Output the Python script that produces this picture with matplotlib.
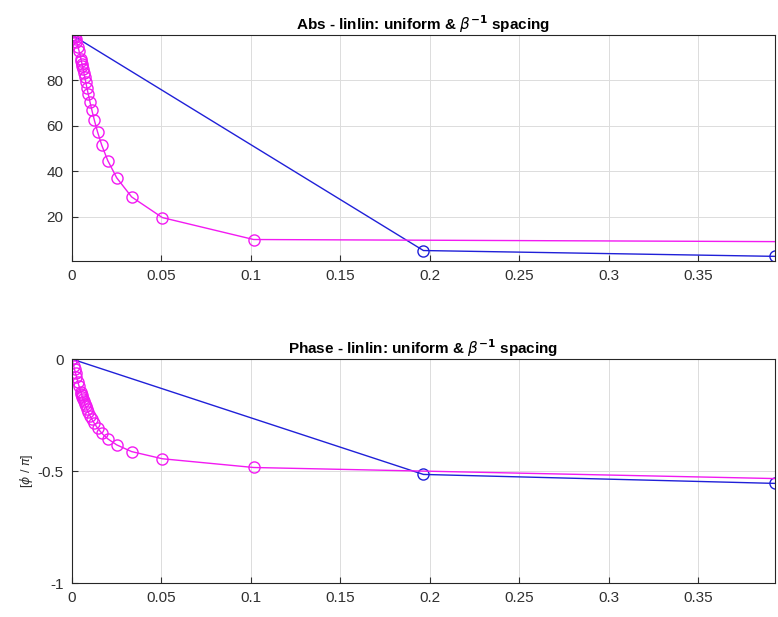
import numpy as np
import matplotlib
matplotlib.use('Agg')
import matplotlib.pyplot as plt

plt.rcParams['font.family'] = ['Liberation Sans', 'DejaVu Sans']

# uniform spacing (blue)
x_uni = [0.0, 0.19635, 0.39270]
abs_uni = [100.0, 5.1, 2.54]
phase_uni = [0.0, -0.515, -0.555]

# beta^-1 spacing (magenta), last point lies outside the view
x_beta = [0.0, 0.001, 0.00143, 0.002, 0.0025, 0.00333, 0.004, 0.005, 0.00526,
          0.00556, 0.00588, 0.00625, 0.00667, 0.00714, 0.00769, 0.00833,
          0.00909, 0.01, 0.01111, 0.0125, 0.01429, 0.01667, 0.02, 0.025,
          0.03333, 0.0505, 0.1015, 3.1416]
abs_beta = [100.0, 99.5, 99.0, 98.1, 97.0, 94.9, 92.8, 89.4, 88.5,
            87.4, 86.2, 84.8, 83.2, 81.4, 79.3, 76.8,
            74.0, 70.7, 66.9, 62.5, 57.3, 51.4, 44.7, 37.1,
            28.7, 19.6, 9.95, 0.32]
phase_beta = [0.0, -0.032, -0.045, -0.063, -0.078, -0.103, -0.122, -0.148, -0.155,
              -0.162, -0.170, -0.179, -0.188, -0.199, -0.210, -0.222,
              -0.236, -0.252, -0.269, -0.287, -0.308, -0.331, -0.356, -0.383,
              -0.413, -0.445, -0.484, -1.0]

xticks = [0, 0.05, 0.1, 0.15, 0.2, 0.25, 0.3, 0.35]
xlim = (0, 0.3927)

blue = '#2020d8'
magenta = '#f21af2'
txt = '#303030'

fig = plt.figure(figsize=(7.78, 6.17), dpi=100)
ax1 = fig.add_axes([0.0925, 0.577, 0.9035, 0.366])
ax2 = fig.add_axes([0.0925, 0.055, 0.9035, 0.363])


def style(ax):
    ax.set_xlim(*xlim)
    ax.set_xticks(xticks)
    ax.set_xticklabels(['0', '0.05', '0.1', '0.15', '0.2', '0.25', '0.3', '0.35'])
    ax.grid(True, color='#dcdcdc', linewidth=0.7)
    ax.set_axisbelow(True)
    ax.tick_params(direction='in', length=4, width=0.8, colors=txt,
                   labelsize=11, pad=6, top=False, right=False)
    for s in ax.spines.values():
        s.set_color('#262626')
        s.set_linewidth(0.8)


# Abs
ax1.plot(x_uni, abs_uni, '-o', color=blue, lw=1, ms=8, mfc='none', mew=1)
ax1.plot(x_beta, abs_beta, '-o', color=magenta, lw=1, ms=8, mfc='none', mew=1)
style(ax1)
ax1.set_ylim(0.5, 99.9)
ax1.set_yticks([20, 40, 60, 80])
ax1.set_title(r'Abs - linlin: uniform & $\beta^{\mathbf{-1}}$ spacing',
              fontsize=11, fontweight='bold', pad=3)

# Phase
ax2.plot(x_uni, phase_uni, '-o', color=blue, lw=1, ms=8, mfc='none', mew=1)
ax2.plot(x_beta, phase_beta, '-o', color=magenta, lw=1, ms=8, mfc='none', mew=1)
style(ax2)
ax2.set_ylim(-1, 0)
ax2.set_yticks([-1, -0.5, 0])
ax2.set_yticklabels(['-1', '-0.5', '0'])
ax2.set_ylabel(r'[$\phi$ / $\pi$]', fontsize=9, color=txt, labelpad=2)
ax2.set_title(r'Phase - linlin: uniform & $\beta^{\mathbf{-1}}$ spacing',
              fontsize=11, fontweight='bold', pad=3)

fig.savefig('out.png', dpi=100)
